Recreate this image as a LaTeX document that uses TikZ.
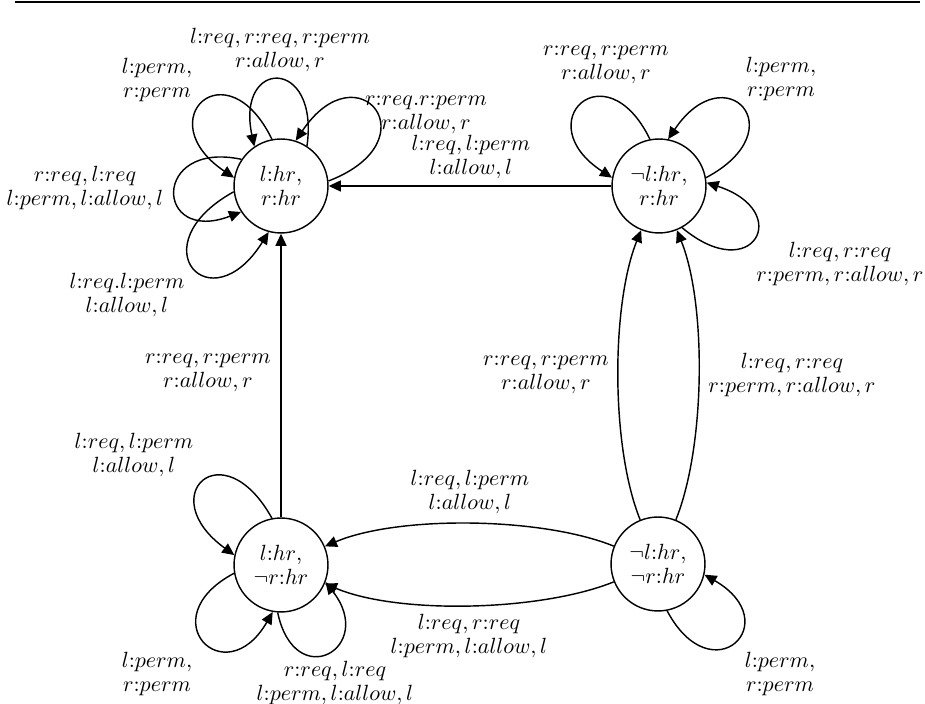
\documentclass[tikz,border=0pt]{standalone}
\usetikzlibrary{arrows.meta}

\tikzset{
  state/.style={circle, draw, line width=0.65pt, minimum size=42.7pt, inner sep=0pt,
                align=center, font=\fontsize{10}{11}\selectfont},
  edge/.style={draw, line width=0.65pt, -{Triangle[length=5.5pt,width=5pt]}},
  lbl/.style={align=center, inner sep=0pt, font=\fontsize{10}{11}\selectfont},
}

\begin{document}
\begin{tikzpicture}[x=0.4545pt, y=0.4545pt]
  \useasboundingbox (0,0) rectangle (925,704);

  % rule across the top
  \draw[line width=0.7pt] (15,702) -- (920,702);

  % states
  \node[state] (tl) at (281,518) {$l{:}hr$,\\$r{:}hr$};
  \node[state] (tr) at (659,518) {$\neg l{:}hr$,\\$r{:}hr$};
  \node[state] (bl) at (281,139) {$l{:}hr$,\\$\neg r{:}hr$};
  \node[state] (br) at (658,140) {$\neg l{:}hr$,\\$\neg r{:}hr$};

  % transitions between states
  \draw[edge] (tr) -- (tl);
  \draw[edge] (bl) -- (tl);
  \draw[edge] (br) to[out=112, in=248, looseness=0.7] (tr);
  \draw[edge] (br) to[out=68,  in=292, looseness=0.7] (tr);
  \draw[edge] (br) to[out=158, in=23,  looseness=0.7] (bl);
  \draw[edge] (br) to[out=202, in=337, looseness=0.7] (bl);

  \node[lbl] (e1) at (471,547) {$l{:}req, l{:}perm$\\$l{:}allow, l$};
  \node[lbl] (e2) at (208,331) {$r{:}req, r{:}perm$\\$r{:}allow, r$};
  \node[lbl] (e3) at (546,329) {$r{:}req, r{:}perm$\\$r{:}allow, r$};
  \node[lbl] (e4) at (792,329) {$l{:}req, r{:}req$\\$r{:}perm, r{:}allow, r$};
  \node[lbl] (e5) at (470,212) {$l{:}req, l{:}perm$\\$l{:}allow, l$};
  \node[lbl] (e6) at (469,68)  {$l{:}req, r{:}req$\\$l{:}perm, l{:}allow, l$};

  % self-loops of the top-left state
  \draw[edge] (tl.101) to[out=116, in=146, distance=47pt]   (tl.170);
  \draw[edge] (tl.57)  to[out=82,  in=102, distance=41pt]   (tl.124);
  \draw[edge] (tl.6)   to[out=21,  in=56,  distance=51pt]   (tl.72);
  \draw[edge] (tl.146) to[out=168, in=201, distance=42pt]   (tl.213);
  \draw[edge] (tl.187) to[out=209, in=238, distance=50pt]   (tl.255);
  \node[lbl] (la1) at (157,624) {$l{:}perm,$\\$r{:}perm$};
  \node[lbl] (la2) at (280,654) {$l{:}req, r{:}req, r{:}perm$\\$r{:}allow, r$};
  \node[lbl] (la3) at (426,589) {$r{:}req.r{:}perm$\\$r{:}allow, r$};
  \node[lbl] (la4) at (85,516)  {$r{:}req, l{:}req$\\$l{:}perm, l{:}allow, l$};
  \node[lbl] (la5) at (127,409) {$l{:}req.l{:}perm$\\$l{:}allow, l$};

  % self-loops of the top-right state
  \draw[edge] (tr.101) to[out=116, in=147, distance=46pt]   (tr.170);
  \draw[edge] (tr.10)  to[out=28,  in=56,  distance=46.5pt] (tr.79);
  \draw[edge] (tr.299) to[out=320, in=342, distance=42pt]   (tr.4);
  \node[lbl] (lb1) at (606,639) {$r{:}req, r{:}perm$\\$r{:}allow, r$};
  \node[lbl] (lb2) at (781,625) {$l{:}perm,$\\$r{:}perm$};
  \node[lbl] (lb3) at (840,440) {$l{:}req, r{:}req$\\$r{:}perm, r{:}allow, r$};

  % self-loops of the bottom-left state
  \draw[edge] (bl.101) to[out=119, in=144, distance=46pt] (bl.168);
  \draw[edge] (bl.190) to[out=208, in=240, distance=43.5pt] (bl.260);
  \draw[edge] (bl.266) to[out=282, in=308, distance=38pt] (bl.339);
  \node[lbl] (lc1) at (134,249) {$l{:}req, l{:}perm$\\$l{:}allow, l$};
  \node[lbl] (lc2) at (157,30)  {$l{:}perm,$\\$r{:}perm$};
  \node[lbl] (lc3) at (335,21)  {$r{:}req, l{:}req$\\$l{:}perm, l{:}allow, l$};

  % self-loop of the bottom-right state
  \draw[edge] (br.281) to[out=298, in=330, distance=43.5pt] (br.347);
  \node[lbl] (ld1) at (780,30) {$l{:}perm,$\\$r{:}perm$};
\end{tikzpicture}
\end{document}
